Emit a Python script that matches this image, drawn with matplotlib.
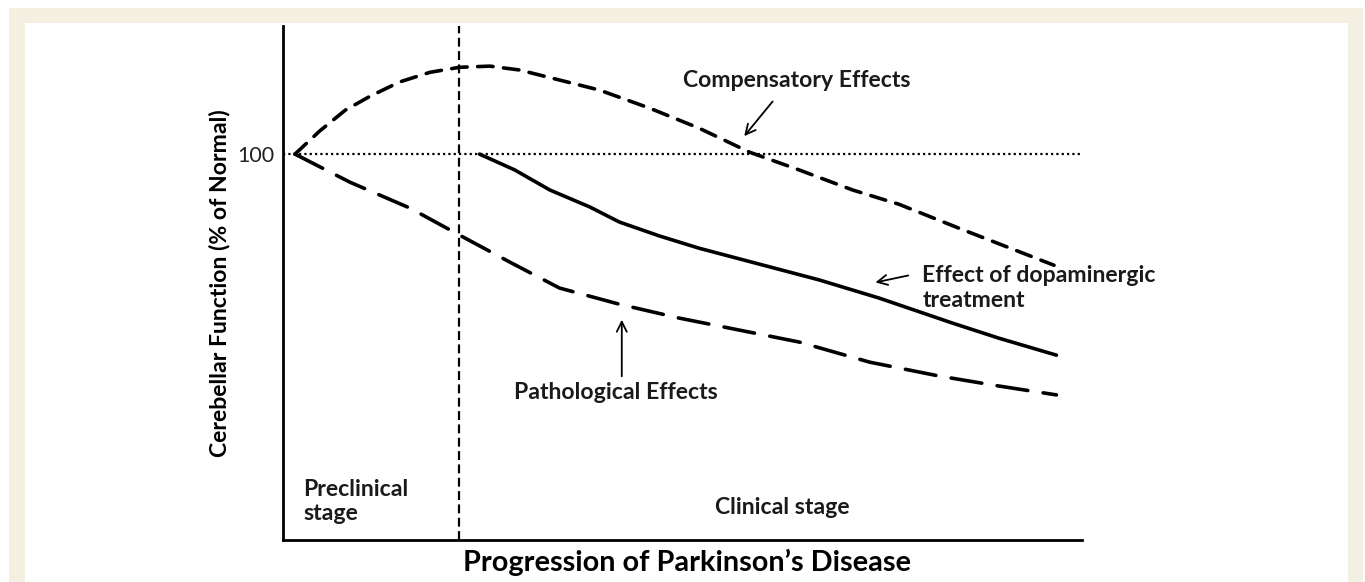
import matplotlib.pyplot as plt
from matplotlib.patches import Rectangle

plt.rcParams['font.family'] = ['Lato', 'DejaVu Sans']

# progression (arbitrary units) vs cerebellar function (% of normal)
comp_x = [0.15, 0.46, 0.78, 1.09, 1.46, 1.84, 2.21, 2.59, 2.96, 3.46, 3.96, 4.59, 5.21, 5.84, 6.46, 7.13, 7.71, 8.46, 9.65]
comp_y = [100, 106.0, 111.4, 115.0, 118.7, 121.2, 122.5, 122.8, 121.8, 119.2, 116.6, 111.9, 106.7, 100.5, 95.9, 90.7, 87.0, 80.8, 71.2]

treat_x = [2.46, 2.90, 3.34, 3.84, 4.21, 4.71, 5.21, 5.96, 6.71, 7.46, 8.38, 8.96, 9.68]
treat_y = [100, 95.9, 90.7, 86.3, 82.4, 78.8, 75.6, 71.5, 67.4, 62.7, 56.2, 52.3, 47.9]

path_x = [0.15, 0.84, 1.59, 2.21, 2.84, 3.46, 4.21, 4.96, 5.71, 6.46, 7.34, 8.21, 8.96, 9.68]
path_y = [100, 92.7, 86.0, 79.0, 72.0, 65.3, 61.1, 57.5, 54.4, 51.3, 46.1, 42.5, 39.9, 37.6]

normal_level = 100
stage_boundary = 2.2

fig = plt.figure(figsize=(13.65, 5.82), dpi=100)
# cream frame around the white panel
fig.patches.append(Rectangle((9 / 1365, 0), 1354 / 1365, 574 / 582, transform=fig.transFigure,
                             facecolor='#f4f0e1', edgecolor='none', zorder=-10))
fig.patches.append(Rectangle((25 / 1365, 0), 1323 / 1365, 559 / 582, transform=fig.transFigure,
                             facecolor='white', edgecolor='none', zorder=-9))

ax = fig.add_axes([283 / 1365, 42 / 582, 799 / 1365, 514 / 582])
ax.set_facecolor('none')
ax.set_xlim(0, 10)
ax.set_ylim(0, 133.2)

ax.plot(comp_x, comp_y, c='black', lw=2.6, dashes=(4.3, 2.9), dash_capstyle='round')
ax.plot(treat_x, treat_y, c='black', lw=2.6, solid_capstyle='round')
ax.plot(path_x, path_y, c='black', lw=2.6, dashes=(8.6, 4.3), dash_capstyle='round')

ax.axhline(normal_level, c='black', lw=1.6, ls=(0, (1, 1.4)))
ax.axvline(stage_boundary, c='black', lw=1.6, ls=(0, (4, 2)))

for s in ['top', 'right']:
    ax.spines[s].set_visible(False)
for s in ['left', 'bottom']:
    ax.spines[s].set_linewidth(2)
ax.set_xticks([])
ax.set_yticks([normal_level])
ax.set_yticklabels(['100'], fontsize=15.5, color='#222222')
ax.tick_params(axis='y', length=0, pad=6)

ax.set_xlabel("Progression of Parkinson\u2019s Disease", fontsize=20.8, fontweight='bold')
ax.xaxis.set_label_coords(0.5056, -0.018)
ax.set_ylabel("Cerebellar Function (% of Normal)", fontsize=16.6, fontweight='bold')
ax.yaxis.set_label_coords(-0.0663, 0.5)

bold = dict(fontsize=16.6, fontweight='bold', color='#1a1a1a')
ax.text(6.43, 119.2, "Compensatory Effects", ha='center', va='center', **bold)
ax.annotate('', xy=(5.75, 104.1), xytext=(6.15, 114.2),
            arrowprops=dict(arrowstyle='->', lw=1.3, color='black', mutation_scale=18))
ax.text(8.0, 65.3, "Effect of dopaminergic\ntreatment", ha='left', va='center', linespacing=1.2, **bold)
ax.annotate('', xy=(7.38, 66.6), xytext=(7.86, 68.7),
            arrowprops=dict(arrowstyle='->', lw=1.3, color='black', mutation_scale=18))
ax.text(4.16, 38.3, "Pathological Effects", ha='center', va='center', **bold)
ax.annotate('', xy=(4.24, 57.8), xytext=(4.24, 41.7),
            arrowprops=dict(arrowstyle='->', lw=1.3, color='black', mutation_scale=18))
ax.text(0.25, 9.9, "Preclinical\nstage", ha='left', va='center', linespacing=1.2, **bold)
ax.text(6.25, 8.5, "Clinical stage", ha='center', va='center', **bold)

plt.savefig('out.png', dpi=100)
